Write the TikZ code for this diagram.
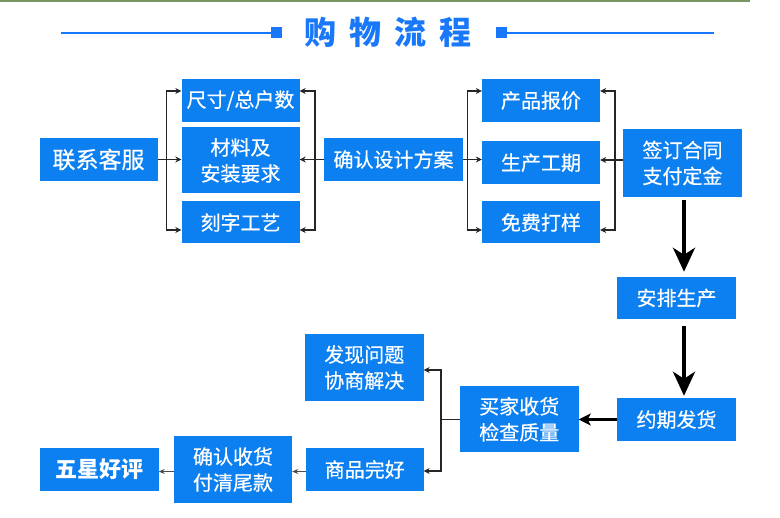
\documentclass[tikz,border=0pt]{standalone}
\usepackage{fontspec}
\newfontfamily\cjk{Noto Sans CJK SC}
\newfontfamily\cjkm[FakeBold=0.5]{Noto Sans CJK SC}
\usetikzlibrary{arrows.meta,calc}
\definecolor{boxblue}{RGB}{12,128,240}
\definecolor{titleblue}{RGB}{25,120,250}
\definecolor{strip}{RGB}{120,150,100}
\begin{document}
\begin{tikzpicture}[x=1pt,y=-1pt,
  box/.style={fill=boxblue, text=white, inner sep=0pt, align=center,
    font=\cjkm\fontsize{20}{26}\selectfont},
  link/.style={draw=black!85, line width=1.4pt, -{Stealth[length=6pt,width=6pt]}},
  plain/.style={draw=black!85, line width=1.4pt},
  big/.style={draw=black, line width=4pt, -{Stealth[length=24pt,width=22pt,inset=7pt]}},
  mid/.style={draw=black, line width=2.5pt, -{Stealth[length=12pt,width=12pt,inset=3pt]}},
  thinarr/.style={draw=black!70, line width=1pt, -{Stealth[length=6pt,width=5pt]}}
]
\useasboundingbox (0,0) rectangle (780,518);
\fill[white] (0,0) rectangle (780,518);
\fill[strip] (0,0) rectangle (750,2);

% title
\draw[titleblue, line width=2.5pt] (61,33) -- (271,33);
\fill[titleblue] (271,27.5) rectangle (282,38.5);
\draw[titleblue, line width=2.5pt] (507,33) -- (714,33);
\fill[titleblue] (496,27.5) rectangle (507,38.5);
\node[font=\cjk\bfseries\fontsize{32}{32}\selectfont, text=titleblue, inner sep=0pt] (title) at (388,32) {购\hspace{13pt}物\hspace{13pt}流\hspace{13pt}程};

% boxes
\node[box, minimum width=118pt, minimum height=43pt, font=\cjkm\fontsize{23}{26}\selectfont] (kf) at (98.5,159.5) {联系客服};
\node[box, minimum width=118pt, minimum height=43pt] (cc) at (240.5,100.5) {尺寸/总户数};
\node[box, minimum width=118pt, minimum height=66pt] (cl) at (240.5,160.5) {材料及\\安装要求};
\node[box, minimum width=118pt, minimum height=42pt] (kz) at (240.5,222.5) {刻字工艺};
\node[box, minimum width=139pt, minimum height=43pt] (qr) at (393.5,159.5) {确认设计方案};
\node[box, minimum width=118pt, minimum height=43pt] (bj) at (541,100.5) {产品报价};
\node[box, minimum width=118pt, minimum height=42.5pt] (gq) at (541,162.75) {生产工期};
\node[box, minimum width=118pt, minimum height=42pt] (dy) at (541,222.5) {免费打样};
\node[box, minimum width=119pt, minimum height=68pt] (ht) at (682.5,163) {签订合同\\支付定金};
\node[box, minimum width=119pt, minimum height=42pt] (ap) at (676.5,298) {安排生产};
\node[box, minimum width=119pt, minimum height=43pt] (fh) at (676.5,419.5) {约期发货};
\node[box, minimum width=118.5pt, minimum height=66.5pt] (sh) at (519.25,419.25) {买家收货\\检查质量};
\node[box, minimum width=118.5pt, minimum height=67pt] (wt) at (364.25,367.5) {发现问题\\协商解决};
\node[box, minimum width=117.5pt, minimum height=43pt] (wh) at (364.75,469.5) {商品完好};
\node[box, minimum width=118pt, minimum height=67pt] (qs) at (233,469.5) {确认收货\\付清尾款};
\node[box, minimum width=118.5pt, minimum height=43pt, font=\cjk\bfseries\fontsize{22}{26}\selectfont] (wx) at (99.25,469.5) {五星好评};

% left group
\coordinate (b1) at (166.7,159.5);
\draw[link] (kf.east) -- (kf.east -| cl.west);
\draw[link] (b1) |- ([yshift=9.5pt]cc.west);
\draw[link] (b1) |- ([yshift=-7.5pt]kz.west);
\coordinate (b2) at (315,159.5);
\draw[link] (qr.west) -- (qr.west -| cl.east);
\draw[link] (b2) |- ([yshift=9.5pt]cc.east);
\draw[link] (b2) |- ([yshift=-7.5pt]kz.east);

% right group
\coordinate (b3) at (467.3,159.5);
\draw[link] (qr.east) -- (qr.east -| gq.west);
\draw[link] (b3) |- ([yshift=9.5pt]bj.west);
\draw[link] (b3) |- ([yshift=-7.5pt]dy.west);
\coordinate (b4) at (615,160);
\draw[link] (b4 -| ht.west) -- (b4 -| gq.east);
\draw[link] (b4) |- ([yshift=9.5pt]bj.east);
\draw[link] (b4) |- ([yshift=-7.5pt]dy.east);

% vertical flow
\coordinate (ax) at (684,0);
\draw[big] ([yshift=-3pt]ht.south -| ax) -- ([yshift=5pt]ap.north -| ax);
\draw[big] ([yshift=-6.7pt]ap.south -| ax) -- ([yshift=2pt]fh.north -| ax);
\draw[mid] (fh.west) -- (fh.west -| sh.east);

% lower bracket
\coordinate (b5) at (441,419.25);
\draw[plain] (sh.west) -- (b5);
\draw[link] (b5) |- ([yshift=-2.5pt]wt.east);
\draw[link] (b5) |- ([yshift=-1.5pt]wh.east);

% bottom row
\draw[thinarr] ([yshift=-2pt]wh.west) -- ([yshift=-2pt]wh.west -| qs.east);
\draw[thinarr] ([yshift=-2pt]qs.west) -- ([yshift=-2pt]qs.west -| wx.east);
\end{tikzpicture}
\end{document}
